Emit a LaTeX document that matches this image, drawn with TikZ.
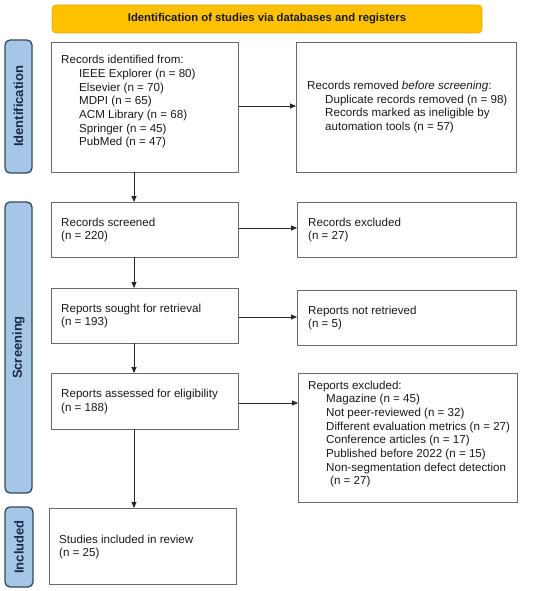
\documentclass[tikz,border=0pt]{standalone}
\usepackage{fontspec}
\setmainfont{Liberation Sans}
\usetikzlibrary{arrows.meta}
\definecolor{bannerfill}{HTML}{FFC000}
\definecolor{bannerdraw}{HTML}{E8AC10}
\definecolor{sidefill}{HTML}{A6C6E8}
\definecolor{sidedraw}{HTML}{37475A}
\definecolor{sidetext}{HTML}{1A2A48}
\definecolor{boxdraw}{HTML}{6A6A6A}
\definecolor{txt}{HTML}{1A1A1A}
\tikzset{
  x=1pt,y=-1pt,
  banner/.style={draw=bannerdraw,fill=bannerfill,rounded corners=4pt,line width=0.8pt},
  side/.style={draw=sidedraw,fill=sidefill,rounded corners=5pt,line width=1.3pt},
  sidelabel/.style={rotate=90,font=\fontsize{13}{15}\selectfont\bfseries,text=sidetext,inner sep=0pt},
  flowbox/.style={draw=boxdraw,line width=0.9pt,fill=white},
  boxtext/.style={anchor=west,align=left,inner sep=0pt,text=txt,font=\fontsize{11.6}{13.7}\selectfont},
  arr/.style={-{Triangle[length=6pt,width=5pt]},line width=0.9pt,black!85}
}
\newcommand{\ind}{\hspace*{18pt}}
\begin{document}
\begin{tikzpicture}
\useasboundingbox (0,0) rectangle (550,591);
% banner
\draw[banner] (52,5) rectangle (482,33);
\node[font=\fontsize{11.3}{13}\selectfont\bfseries,text=txt] (ban) at (267,19) {Identification of studies via databases and registers};
% side labels
\draw[side] (5,40) rectangle (32,173);
\node[sidelabel] (sid) at (18.5,106.5) {Identification};
\draw[side] (5,202) rectangle (32,493);
\node[sidelabel] (sscr) at (18.5,347.5) {Screening};
\draw[side] (5,507) rectangle (33,587);
\node[sidelabel] (sinc) at (19,547) {Included};
% boxes
\node[flowbox,minimum width=187pt,minimum height=130pt,anchor=north west] (b1) at (51,42) {};
\node[boxtext,anchor=north west] at (61,55) {Records identified from:\\
\ind IEEE Explorer (n = 80)\\
\ind Elsevier (n = 70)\\
\ind MDPI (n = 65)\\
\ind ACM Library (n = 68)\\
\ind Springer (n = 45)\\
\ind PubMed (n = 47)};
\node[flowbox,minimum width=220pt,minimum height=130pt,anchor=north west] (r1) at (296,42) {};
\node[boxtext] at (307,107) {Records removed \textit{before screening}:\\
\ind Duplicate records removed (n = 98)\\
\ind Records marked as ineligible by\\
\ind automation tools (n = 57)};

\node[flowbox,minimum width=187pt,minimum height=55pt,anchor=north west] (b2) at (51,202) {};
\node[boxtext] at (61,230) {Records screened\\(n = 220)};
\node[flowbox,minimum width=219pt,minimum height=55pt,anchor=north west] (r2) at (297,202) {};
\node[boxtext] at (308,230) {Records excluded\\(n = 27)};

\node[flowbox,minimum width=187pt,minimum height=55pt,anchor=north west] (b3) at (51,288) {};
\node[boxtext] at (61,316) {Reports sought for retrieval\\(n = 193)};
\node[flowbox,minimum width=219pt,minimum height=55pt,anchor=north west] (r3) at (297,290) {};
\node[boxtext] at (308,318) {Reports not retrieved\\(n = 5)};

\node[flowbox,minimum width=187pt,minimum height=56pt,anchor=north west] (b4) at (51,373) {};
\node[boxtext] at (61,401.5) {Reports assessed for eligibility\\(n = 188)};
\node[flowbox,minimum width=219pt,minimum height=129pt,anchor=north west] (r4) at (298,373) {};
\node[boxtext] at (308,434) {Reports excluded:\\
\ind Magazine (n = 45)\\
\ind Not peer-reviewed (n = 32)\\
\ind Different evaluation metrics (n = 27)\\
\ind Conference articles (n = 17)\\
\ind Published before 2022 (n = 15)\\
\ind Non-segmentation defect detection\\
\ind\hspace*{4pt}(n = 27)};

\node[flowbox,minimum width=187pt,minimum height=76pt,anchor=north west] (b5) at (49,508) {};
\node[boxtext] at (59,547) {Studies included in review\\(n = 25)};
% arrows
\draw[arr] (b1.east |- 0,106) -- (r1.west |- 0,106);
\draw[arr] (b2.east |- 0,228) -- (r2.west |- 0,228);
\draw[arr] (b3.east |- 0,317) -- (r3.west |- 0,317);
\draw[arr] (b4.east |- 0,403) -- (r4.west |- 0,403);
\draw[arr] (134,172) -- (134,202);
\draw[arr] (134,257) -- (134,288);
\draw[arr] (134,343) -- (134,373);
\draw[arr] (134,429) -- (134,508);
\end{tikzpicture}
\end{document}
